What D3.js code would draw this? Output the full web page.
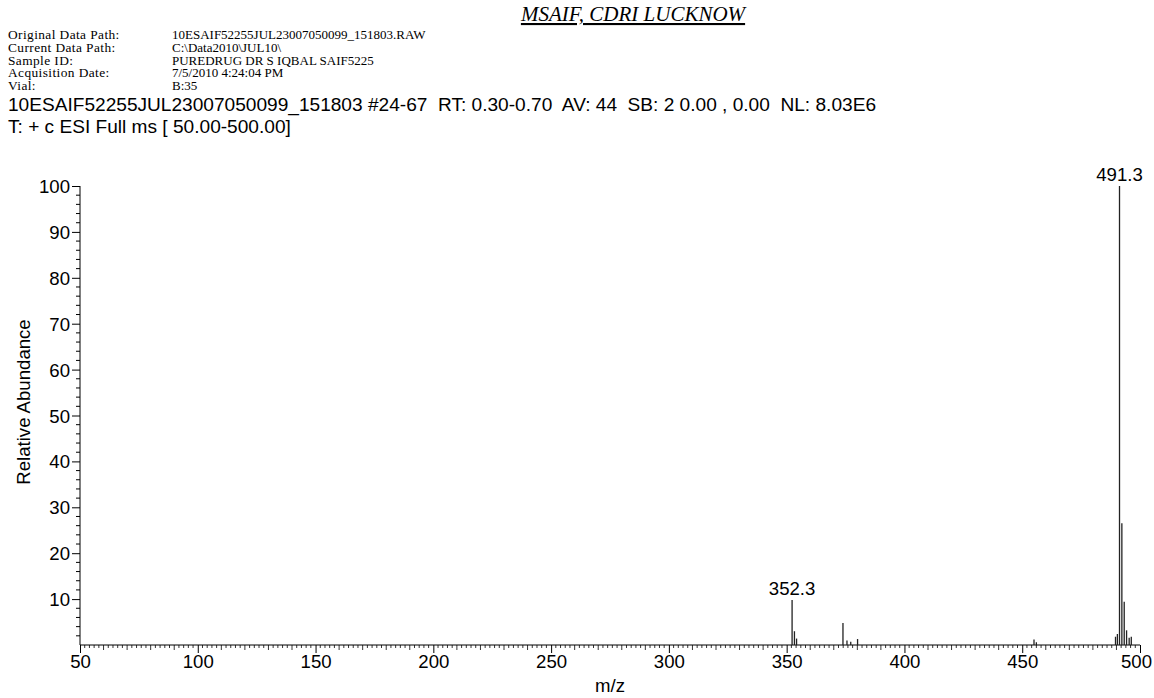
<!DOCTYPE html>
<html><head><meta charset="utf-8">
<script src="https://cdn.jsdelivr.net/npm/d3@7/dist/d3.min.js"></script>
<style>
html,body{margin:0;padding:0;background:#fff;}
svg{display:block;}
</style></head>
<body>
<svg id="c" width="1154" height="698"></svg>
<script>
// ---- data ----
const headerLabels = ["Original Data Path:", "Current Data Path:", "Sample ID:", "Acquisition Date:", "Vial:"];
const headerValues = ["10ESAIF52255JUL23007050099_151803.RAW", "C:\\Data2010\\JUL10\\", "PUREDRUG DR S IQBAL SAIF5225", "7/5/2010 4:24:04 PM", "B:35"];
const titleText = "MSAIF, CDRI LUCKNOW";
const scanLine1 = "10ESAIF52255JUL23007050099_151803 #24-67  RT: 0.30-0.70  AV: 44  SB: 2 0.00 , 0.00  NL: 8.03E6";
const scanLine2 = "T: + c ESI Full ms [ 50.00-500.00]";
const mzValues = [352.3, 353.3, 354.2, 373.9, 375.6, 377.2, 380.1, 455.0, 456.0, 489.6, 490.4, 491.3, 492.3, 493.3, 494.3, 495.4, 496.3];
const abundance = [9.8, 3.0, 1.4, 4.8, 1.0, 0.7, 1.3, 1.2, 0.6, 1.8, 2.4, 100, 26.5, 9.4, 3.2, 1.6, 1.8];
const peakLabels = [{mz: 491.3, label: "491.3"}, {mz: 352.3, label: "352.3"}];
const xTicks = [50, 100, 150, 200, 250, 300, 350, 400, 450, 500];
const yTicks = [10, 20, 30, 40, 50, 60, 70, 80, 90, 100];

// ---- layout ----
const svg = d3.select("#c");
const m = {left: 80, right: 1140, top: 186, bottom: 645};
const x = d3.scaleLinear().domain([50, 500]).range([m.left, m.right]);
const y = d3.scaleLinear().domain([0, 100]).range([m.bottom, m.top]);
const sans = "Liberation Sans, Arial, sans-serif";
const serif = "Liberation Serif, Times New Roman, serif";
const fs = 18.6;

// header
svg.append("text").attr("x", 633).attr("y", 21).attr("text-anchor", "middle")
  .attr("font-family", serif).attr("font-style", "italic").attr("font-size", 21)
  .attr("text-decoration", "underline").text(titleText);
const hg = svg.append("g").attr("font-family", serif).attr("fill", "#000");
hg.selectAll("text.l").data(headerLabels).join("text").attr("class", "l")
  .attr("font-size", 13.4).attr("letter-spacing", 0.4)
  .attr("x", 8).attr("y", (d, i) => 39 + i * 12.8).text(d => d);
hg.selectAll("text.v").data(headerValues).join("text").attr("class", "v")
  .attr("font-size", 13)
  .attr("x", 172).attr("y", (d, i) => 39 + i * 12.8).text(d => d);
svg.append("text").attr("x", 8).attr("y", 111).attr("font-family", sans).attr("font-size", 19.1)
  .style("white-space", "pre").text(scanLine1);
svg.append("text").attr("x", 8).attr("y", 132.5).attr("font-family", sans).attr("font-size", 19.1)
  .style("white-space", "pre").text(scanLine2);

// y axis
const yAxis = d3.axisLeft(y).tickValues(yTicks).tickSize(8).tickPadding(2).tickFormat(d3.format("d"));
const ya = svg.append("g").attr("transform", `translate(${m.left},0)`).call(yAxis);
ya.select(".domain").attr("d", `M0,${m.bottom}V${m.top}`).attr("stroke", "#000");
ya.selectAll("text").attr("font-family", sans).attr("font-size", fs).attr("fill", "#000").attr("dy", "0.35em");
ya.selectAll("line").attr("stroke", "#000");
const yMinor = d3.range(0, 101, 2).filter(v => v % 10 !== 0);
svg.append("g").selectAll("line").data(yMinor).join("line")
  .attr("x1", m.left - 4).attr("x2", m.left).attr("y1", d => y(d)).attr("y2", d => y(d))
  .attr("stroke", "#000").attr("stroke-width", 1);

// x axis
const xAxis = d3.axisBottom(x).tickValues(xTicks).tickSize(8).tickPadding(2).tickFormat(d3.format("d"));
const xa = svg.append("g").attr("transform", `translate(0,${m.bottom})`).call(xAxis);
xa.select(".domain").attr("d", `M${m.left},0H${m.right}`).attr("stroke", "#000");
xa.selectAll("text").attr("font-family", sans).attr("font-size", fs).attr("fill", "#000")
  .attr("dx", d => d === 500 ? -4 : 0);
xa.selectAll("line").attr("stroke", "#000");
const xMinor = d3.range(52, 500, 2).filter(v => v % 50 !== 0);
svg.append("g").selectAll("line").data(xMinor).join("line")
  .attr("x1", d => x(d)).attr("x2", d => x(d)).attr("y1", m.bottom)
  .attr("y2", d => m.bottom + (d % 10 === 0 ? 5 : 3))
  .attr("stroke", "#000").attr("stroke-width", 0.8);

// axis titles
svg.append("text").attr("transform", `translate(30,402) rotate(-90)`)
  .attr("text-anchor", "middle").attr("font-family", sans).attr("font-size", fs).text("Relative Abundance");
svg.append("text").attr("x", 610).attr("y", 692).attr("text-anchor", "middle")
  .attr("font-family", sans).attr("font-size", fs).text("m/z");

// peaks
const peaks = mzValues.map((v, i) => ({mz: v, ab: abundance[i]}));
svg.append("g").selectAll("line").data(peaks).join("line")
  .attr("x1", d => x(d.mz)).attr("x2", d => x(d.mz))
  .attr("y1", y(0)).attr("y2", d => y(d.ab))
  .attr("stroke", "#222").attr("stroke-width", 1.3);

// peak labels
svg.append("g").selectAll("text").data(peakLabels).join("text")
  .attr("x", d => x(d.mz)).attr("y", d => y(abundance[mzValues.indexOf(d.mz)]) - 5)
  .attr("text-anchor", "middle").attr("font-family", sans).attr("font-size", fs).text(d => d.label);
</script>
</body></html>
